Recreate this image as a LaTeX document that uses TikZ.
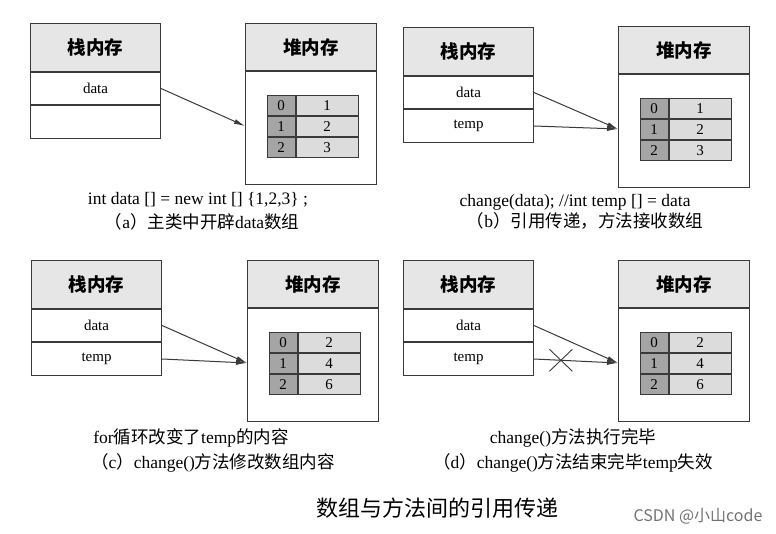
\documentclass[tikz,border=0pt]{standalone}
\usepackage{fontspec}
\setmainfont{Liberation Serif}
\newfontfamily\cjk{Noto Sans CJK SC}
\usetikzlibrary{arrows.meta,shapes.misc}
\definecolor{lc}{HTML}{3A3A3A}
\definecolor{hfill}{HTML}{E6E6E6}
\definecolor{idxfill}{HTML}{A5A5A5}
\definecolor{valfill}{HTML}{DCDCDC}
\tikzset{
  hdr/.style={draw=lc, line width=1pt, fill=hfill, inner sep=0pt, font=\fontsize{18.5}{22}\selectfont\cjk\bfseries},
  cell/.style={draw=lc, line width=1pt, fill=white, inner sep=0pt, font=\fontsize{15}{18}\selectfont},
  idx/.style={draw=lc, line width=1pt, fill=idxfill, minimum width=28pt, minimum height=20pt, inner sep=0pt, font=\fontsize{15}{17}\selectfont},
  val/.style={draw=lc, line width=1pt, fill=valfill, minimum width=62pt, minimum height=20pt, inner sep=0pt, font=\fontsize{15}{17}\selectfont},
  arr/.style={draw=lc, line width=1pt, -{Latex[length=11pt,width=5pt]}},
  captext/.style={inner sep=0pt, font=\fontsize{17.5}{20}\selectfont},
  crossmark/.style={cross out, draw=lc, line width=0.9pt, minimum width=22pt, minimum height=21pt, inner sep=0pt},
}
\newcommand\mempanel[9]{%
  \node[hdr, minimum width=130pt, minimum height=48pt, anchor=north west] (#1sh) at (#2,#3) {栈内存};
  \node[cell, minimum width=130pt, minimum height=32pt, anchor=north] (#1s1) at (#1sh.south) {data};
  \node[cell, minimum width=130pt, minimum height=33pt, anchor=north] (#1s2) at (#1s1.south) {#6};
  \node[hdr, minimum width=131pt, minimum height=47pt, anchor=north west] (#1hh) at (#4,#5) {堆内存};
  \node[cell, minimum width=131pt, minimum height=113pt, anchor=north] (#1hb) at (#1hh.south) {};
  \node[idx, anchor=north west] (#1i0) at ([shift={(21.5pt,-72pt)}]#1hh.north west) {0};
  \node[idx, anchor=north] (#1i1) at (#1i0.south) {1};
  \node[idx, anchor=north] (#1i2) at (#1i1.south) {2};
  \node[val, anchor=north west] (#1v0) at (#1i0.north east) {#7};
  \node[val, anchor=north west] (#1v1) at (#1i1.north east) {#8};
  \node[val, anchor=north west] (#1v2) at (#1i2.north east) {#9};
  \coordinate (#1t) at ([yshift=-55pt]#1hb.north west);
}
\begin{document}
\begin{tikzpicture}[x=1pt,y=-1pt]
\useasboundingbox[fill=white] (0,0) rectangle (776,534);
\mempanel{a}{30}{23}{245}{23}{}{1}{2}{3}
\mempanel{b}{403}{27}{618}{26}{temp}{1}{2}{3}
\mempanel{c}{31}{260}{247}{260}{temp}{2}{4}{6}
\mempanel{d}{403}{260}{618}{260}{temp}{2}{4}{6}
% arrows
\draw[arr] (as1.east) -- (at);
\draw[arr] (bs1.east) -- (bt);
\draw[arr] (bs2.east) -- (bt);
\draw[arr] (cs1.east) -- (ct);
\draw[arr] (cs2.east) -- (ct);
\draw[arr] (ds1.east) -- (dt);
\draw[arr] (ds2.east) -- node[pos=0.32, crossmark] (dx) {} (dt);
% captions
\node[captext] (a1) at (198,200) {int data [] = new int [] \{1,2,3\} ;};
\node[captext] (a2) at (202,222) {{\cjk （}a{\cjk ）主类中开辟}data{\cjk 数组}};
\node[captext] (b1) at (575,202) {change(data); //int temp [] = data};
\node[captext] (b2) at (585,221) {{\cjk （}b{\cjk ）引用传递，方法接收数组}};
\node[captext] (c1) at (191,438) {for{\cjk 循环改变了}temp{\cjk 的内容}};
\node[captext] (c2) at (213,463) {{\cjk （}c{\cjk ）}change(){\cjk 方法修改数组内容}};
\node[captext] (d1) at (573,438) {change(){\cjk 方法执行完毕}};
\node[captext] (d2) at (573,463) {{\cjk （}d{\cjk ）}change(){\cjk 方法结束完毕}temp{\cjk 失效}};
\node[inner sep=0pt, font=\fontsize{22}{26}\selectfont\cjk] (title) at (437,508) {数组与方法间的引用传递};
\node[inner sep=0pt, text=black!55, font=\fontsize{16}{19}\selectfont\cjk] (wm) at (698,516) {CSDN @小山code};
\end{tikzpicture}
\end{document}
